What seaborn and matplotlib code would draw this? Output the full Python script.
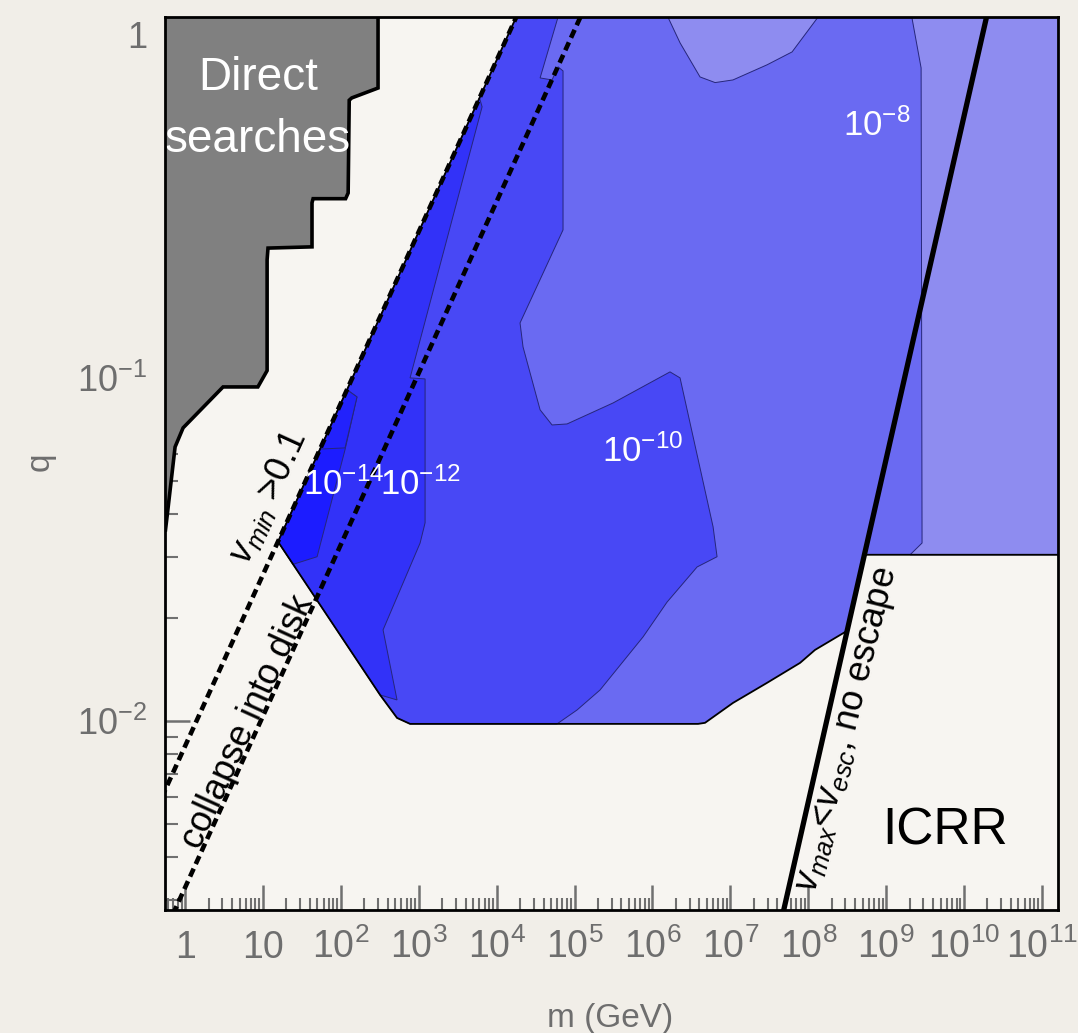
import matplotlib
matplotlib.use('Agg')
import matplotlib.pyplot as plt
from matplotlib.ticker import FixedLocator, FixedFormatter, NullFormatter
import seaborn as sns

##################################################################
# Daten, m in GeV, q dimensionslos

m_lim = [0.553, 1.61e11]
q_lim = [0.00281, 1.128]

# Direkte Suchen (graue Flaeche)
direct_m = [0.3, 300, 300, 138, 128, 124, 115, 44, 42.6, 42.6, 11.6, 11.3, 11.3, 8.6, 3.07, 0.943, 0.744, 0.587, 0.56, 0.3]
direct_q = [1.2, 1.2, 0.70, 0.655, 0.645, 0.346, 0.333, 0.333, 0.324, 0.241, 0.239, 0.221, 0.105, 0.0941, 0.0941, 0.0715, 0.0629, 0.0394, 0.036, 0.036]

# Aeussere Kontur der blauen Flaeche
env_m = [15.6, 20200, 2e11, 2e11, 5.26e8, 3.15e8, 1.22e8, 7.85e7, 2.96e7, 1.08e7, 4.73e6, 3.85e6, 773, 526, 319]
env_q = [0.0333, 1.2, 1.2, 0.0305, 0.0305, 0.0183, 0.0161, 0.01476, 0.01291, 0.01128, 0.00987, 0.0098, 0.0098, 0.0102, 0.0119]

# hellste Bereiche
bulge_m = [1.55e6, 1.6e6, 2.26e6, 4.08e6, 6.37e6, 1.08e7, 2.96e7, 6.2e7, 1.34e8, 1.45e8]
bulge_q = [1.2, 1.12, 0.948, 0.754, 0.726, 0.739, 0.818, 0.892, 1.128, 1.2]
light_m = [2.03e9, 2.81e9, 2.89e9, 2.03e9, 2e11, 2e11]
light_q = [1.2, 0.801, 0.033, 0.0305, 0.0305, 1.2]

# Konturbereich 1e-10
r10_m = [15.6, 20200, 61400, 61400, 36100, 51400, 61400, 71100, 71100, 19950, 21800, 36100, 51400, 80100,
         312000, 1.68e6, 2.26e6, 6.0e6, 6.75e6, 3.74e6, 1.54e6, 757000, 212000, 107700, 59600, 773, 526, 319]
r10_q = [0.0333, 1.2, 1.2, 1.128, 0.749, 0.739, 0.807, 0.785, 0.270, 0.1446, 0.1231, 0.0807, 0.0729, 0.0734,
         0.0845, 0.1041, 0.1, 0.0368, 0.0301, 0.0281, 0.0222, 0.01757, 0.0123, 0.01076, 0.0098, 0.0098, 0.0102, 0.0119]

# Konturbereich 1e-12
r12_m = [6020, 6500, 773, 1205, 1205, 1040, 348, 526, 319, 15.6]
r12_q = [0.655, 0.617, 0.1, 0.0993, 0.0378, 0.0330, 0.01842, 0.01151, 0.0119, 0.0333]

# Konturbereich 1e-14
r14_m = [15.6, 120, 161, 113, 49.5, 24.3]
r14_q = [0.0333, 0.0923, 0.088, 0.0617, 0.0301, 0.0286]
r14b_m = [54, 120, 161, 113]
r14b_q = [0.062, 0.0923, 0.088, 0.0625]

# Grenzlinien
vmin_m = [0.5, 2.5e4]
vmin_q = [0.00597, 1.334]
collapse_m = [0.5, 2.5e5]
collapse_q = [0.00231, 1.635]
vmax_m = [3e7, 3e10]
vmax_q = [0.00174, 1.74]

# Achsenbeschriftung
x_major = [10.0 ** e for e in range(0, 12)]
x_labels = ['1', '10'] + [r'$10^{%d}$' % e for e in range(2, 12)]
y_major = [0.01, 0.1, 1.0]
y_labels = [r'$10^{-2}$', r'$10^{-1}$', '1']

##################################################################

sns.set_style('ticks')
plt.rcParams['font.family'] = ['Liberation Sans', 'DejaVu Sans']
plt.rcParams['mathtext.fontset'] = 'custom'
plt.rcParams['mathtext.rm'] = 'Liberation Sans'
plt.rcParams['mathtext.it'] = 'Liberation Sans:italic'
plt.rcParams['mathtext.bf'] = 'Liberation Sans:bold'

col_light = '#8e8cf0'
col_8 = '#6a6af2'
col_10 = '#4848f5'
col_12 = '#3232f8'
col_14 = '#1c1cff'
edge = '#26267a'
grey = '#6e6e6e'

fig = plt.figure(figsize=(10.78, 10.33), dpi=100, facecolor='#f1eee8')
ax = fig.add_axes([0.1531, 0.1191, 0.8284, 0.8645])
ax.set_facecolor('#f7f5f1')
ax.set_xscale('log')
ax.set_yscale('log')

# Flaechen
ax.fill(env_m, env_q, facecolor=col_8, lw=0, zorder=1)
ax.fill(bulge_m, bulge_q, facecolor=col_light, edgecolor=edge, lw=0.7, zorder=2)
ax.fill(light_m, light_q, facecolor=col_light, edgecolor=edge, lw=0.7, zorder=2)
ax.fill(r10_m, r10_q, facecolor=col_10, edgecolor=edge, lw=0.7, zorder=2)
ax.fill(r12_m, r12_q, facecolor=col_12, edgecolor=edge, lw=0.7, zorder=2)
ax.fill(r14_m, r14_q, facecolor=col_14, edgecolor=edge, lw=0.7, zorder=2)
ax.fill(r14b_m, r14b_q, facecolor='#2222fc', edgecolor=edge, lw=0.7, zorder=2)
ax.plot(env_m + env_m[:1], env_q + env_q[:1], color='k', lw=1.3, zorder=3)
ax.fill(direct_m, direct_q, facecolor='#808080', edgecolor='k', lw=2.6, zorder=4)

# Linien
sns.lineplot(x=vmin_m, y=vmin_q, ax=ax, color='k', lw=3.3, linestyle=(0, (1.9, 1.1)), zorder=5)
sns.lineplot(x=collapse_m, y=collapse_q, ax=ax, color='k', lw=3.3, linestyle=(0, (1.9, 1.1)), zorder=5)
sns.lineplot(x=vmax_m, y=vmax_q, ax=ax, color='k', lw=3.8, zorder=5)

ax.set_xlim(m_lim)
ax.set_ylim(q_lim)

# Texte
ax.text(8.65, 0.691, 'Direct', ha='center', va='baseline', color='w', fontsize=33, zorder=7)
ax.text(8.65, 0.456, 'searches', ha='center', va='baseline', color='w', fontsize=33, zorder=7)
ax.text(32.7, 0.0456, r'$10^{-14}$', ha='left', va='baseline', color='w', fontsize=25, zorder=7)
ax.text(319, 0.0456, r'$10^{-12}$', ha='left', va='baseline', color='w', fontsize=25, zorder=7)
ax.text(2.25e5, 0.0569, r'$10^{-10}$', ha='left', va='baseline', color='w', fontsize=25, zorder=7)
ax.text(2.8e8, 0.508, r'$10^{-8}$', ha='left', va='baseline', color='w', fontsize=25, zorder=7)
ax.text(11.6, 0.045, r'$v_{min}$ >0.1', rotation=65.5, rotation_mode='anchor',
        ha='center', va='center', fontsize=26, color='k', zorder=7)
ax.text(6.44, 0.00993, 'collapse into disk', rotation=65.5, rotation_mode='anchor',
        ha='center', va='center', fontsize=26, color='k', zorder=7)
ax.text(3.24e8, 0.00941, r'$v_{max}$<$v_{esc}$, no escape', rotation=76, rotation_mode='anchor',
        ha='center', va='center', fontsize=26, color='k', zorder=7)
ax.text(8.86e8, 0.00435, 'ICRR', ha='left', va='baseline', fontsize=37, color='k', zorder=7)

# Achsen
ax.xaxis.set_major_locator(FixedLocator(x_major))
ax.xaxis.set_major_formatter(FixedFormatter(x_labels))
ax.xaxis.set_minor_locator(FixedLocator([s * 10.0 ** e for e in range(-1, 12) for s in range(2, 10)]))
ax.xaxis.set_minor_formatter(NullFormatter())
ax.yaxis.set_major_locator(FixedLocator(y_major))
ax.yaxis.set_major_formatter(FixedFormatter(y_labels))
ax.yaxis.set_minor_locator(FixedLocator([s * 10.0 ** e for e in range(-3, 1) for s in range(2, 10)]))
ax.yaxis.set_minor_formatter(NullFormatter())

ax.tick_params(which='both', direction='in', color='#707070', top=False, right=False,
               labelcolor=grey)
ax.tick_params(axis='x', labelsize=27)
ax.tick_params(axis='y', labelsize=26)
ax.tick_params(which='major', length=18, width=1.8)
ax.tick_params(which='minor', length=9, width=1.5)
ax.tick_params(axis='x', pad=34.6)
ax.tick_params(axis='y', pad=13)
plt.setp(ax.get_xticklabels(), va='baseline')

for s in ax.spines.values():
    s.set_linewidth(2)
    s.set_color('k')
    s.set_zorder(8)

fig.text(0.037, 0.553, 'q', rotation=90, ha='center', va='center', fontsize=24, color=grey)
fig.text(0.566, 0.0136, 'm (GeV)', ha='center', va='center', fontsize=24, color=grey)

fig.savefig('out.png', dpi=100, facecolor=fig.get_facecolor())
